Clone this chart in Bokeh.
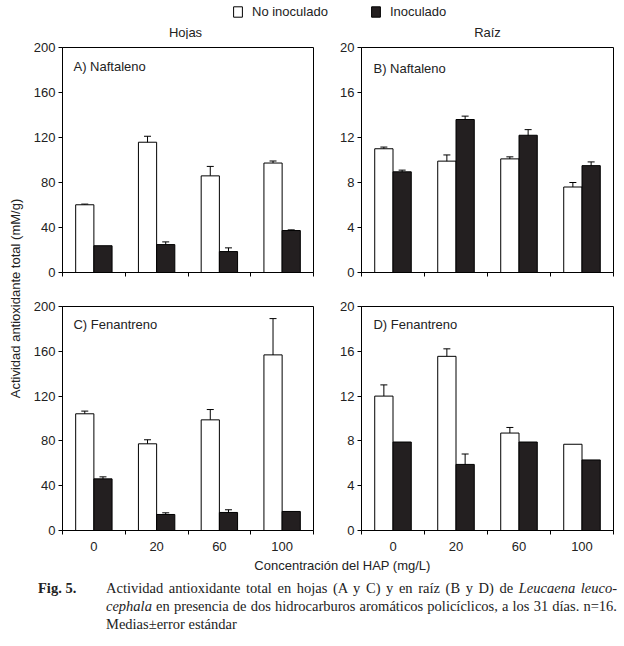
import numpy as np
from bokeh.plotting import figure
from bokeh.models import (ColumnDataSource, Whisker, TeeHead, FixedTicker, Label,
                          Legend, LegendItem, Range1d, Div)
from bokeh.layouts import column, row
from bokeh.embed import file_html
from bokeh.resources import INLINE
from bokeh.core.properties import value

# ---------------- data ----------------
categories = ["0", "20", "60", "100"]
series_names = ["No inoculado", "Inoculado"]

hojas_naf_no = [60.2, 115.8, 85.9, 97.3]
hojas_naf_no_err = [0.6, 5.3, 8.4, 1.8]
hojas_naf_in = [23.8, 24.8, 18.6, 37.3]
hojas_naf_in_err = [0.0, 2.4, 3.3, 0.6]

raiz_naf_no = [11.0, 9.9, 10.1, 7.6]
raiz_naf_no_err = [0.15, 0.55, 0.18, 0.4]
raiz_naf_in = [8.95, 13.6, 12.2, 9.5]
raiz_naf_in_err = [0.15, 0.3, 0.5, 0.33]

hojas_fen_no = [104.2, 77.4, 98.8, 156.8]
hojas_fen_no_err = [2.4, 3.6, 9.2, 32.4]
hojas_fen_in = [46.1, 14.3, 16.1, 17.0]
hojas_fen_in_err = [1.8, 1.5, 2.4, 0.0]

raiz_fen_no = [12.0, 15.55, 8.7, 7.7]
raiz_fen_no_err = [1.0, 0.67, 0.5, 0.0]
raiz_fen_in = [7.9, 5.9, 7.9, 6.3]
raiz_fen_in_err = [0.0, 0.93, 0.0, 0.0]

hojas_ticks = [0, 40, 80, 120, 160, 200]
raiz_ticks = [0, 4, 8, 12, 16, 20]

panel_labels = ["A) Naftaleno", "B) Naftaleno", "C) Fenantreno", "D) Fenantreno"]
col_titles = ["Hojas", "Raíz"]
y_label = "Actividad antioxidante total (mM/g)"
x_label = "Concentración del HAP (mg/L)"

FONT = "Liberation Sans"
TXT = "#222222"
DARK = "#231f20"
FS = "13px"


def panel(no, no_err, ino, ino_err, ymax, yticks, label, width, height,
          mbl, mbr, mbt, mbb, show_xlabels, lab_x, lab_y):
    p = figure(width=width, height=height, x_range=Range1d(-0.5, 3.5),
               y_range=Range1d(0, ymax), output_backend="svg",
               toolbar_location=None, min_border_left=mbl, min_border_right=mbr,
               min_border_top=mbt, min_border_bottom=mbb)
    p.xgrid.visible = False
    p.ygrid.visible = False
    p.outline_line_color = "black"
    p.outline_line_alpha = 1.0
    p.outline_line_width = 1
    p.background_fill_color = "white"
    p.border_fill_color = "white"

    idx = np.arange(len(categories))
    off = 0.145
    bw = 0.29
    s_no = ColumnDataSource(dict(x=idx - off, top=no))
    s_in = ColumnDataSource(dict(x=idx + off, top=ino))
    p.vbar(x="x", top="top", bottom=0, width=bw, source=s_no,
           fill_color="white", line_color="black", line_width=1)
    p.vbar(x="x", top="top", bottom=0, width=bw, source=s_in,
           fill_color=DARK, line_color="black", line_width=1)

    for xs, vals, errs in ((idx - off, no, no_err), (idx + off, ino, ino_err)):
        keep = [i for i, e in enumerate(errs) if e > 0]
        if not keep:
            continue
        src = ColumnDataSource(dict(
            x=[xs[i] for i in keep],
            upper=[vals[i] + errs[i] for i in keep],
            lower=[vals[i] - errs[i] for i in keep]))
        w = Whisker(source=src, base="x", upper="upper", lower="lower",
                    dimension="height", line_color="black", line_width=1,
                    upper_head=TeeHead(size=7, line_color="black", line_width=1),
                    lower_head=TeeHead(size=7, line_color="black", line_width=1))
        p.add_layout(w)

    # y axis
    p.yaxis.ticker = FixedTicker(ticks=yticks)
    p.yaxis.major_tick_out = 4
    p.yaxis.major_tick_in = 0
    p.yaxis.minor_tick_out = 0
    p.yaxis.minor_tick_in = 0
    p.yaxis.major_label_standoff = 3
    p.yaxis.axis_line_color = "black"
    p.yaxis.major_tick_line_color = "black"
    p.yaxis.major_label_text_font = FONT
    p.yaxis.major_label_text_font_size = FS
    p.yaxis.major_label_text_color = TXT

    # x axis: ticks at category boundaries, labels at category centers
    p.xaxis.ticker = FixedTicker(ticks=list(range(len(categories))),
                                 minor_ticks=[-0.5, 0.5, 1.5, 2.5, 3.5])
    p.xaxis.major_tick_out = 0
    p.xaxis.major_tick_in = 0
    p.xaxis.minor_tick_out = 4
    p.xaxis.minor_tick_in = 0
    p.xaxis.minor_tick_line_color = "black"
    p.xaxis.axis_line_color = "black"
    p.xaxis.major_label_standoff = 7
    p.xaxis.major_label_text_font = FONT
    p.xaxis.major_label_text_font_size = FS
    p.xaxis.major_label_text_color = TXT
    if show_xlabels:
        p.xaxis.major_label_overrides = {i: c for i, c in enumerate(categories)}
    else:
        p.xaxis.major_label_overrides = {i: "" for i in range(len(categories))}

    p.add_layout(Label(x=lab_x, y=lab_y, text=label, text_font=FONT,
                       text_font_size=FS, text_color=TXT,
                       text_baseline="middle", text_align="left"))
    return p


TOP_H = 39
# row 1 (page y 39..298)
pA = panel(hojas_naf_no, hojas_naf_no_err, hojas_naf_in, hojas_naf_in_err,
           200, hojas_ticks, panel_labels[0], 307, 298 - TOP_H, 32, 24, 8, 26, False,
           -0.325, 200 * 206 / 225)
pB = panel(raiz_naf_no, raiz_naf_no_err, raiz_naf_in, raiz_naf_in_err,
           20, raiz_ticks, panel_labels[1], 287, 298 - TOP_H, 24, 11, 8, 26, False,
           -0.31, 20 * 204 / 225)
# row 2 (page y 298..555)
pC = panel(hojas_fen_no, hojas_fen_no_err, hojas_fen_in, hojas_fen_in_err,
           200, hojas_ticks, panel_labels[2], 307, 257, 32, 24, 8, 25, True,
           -0.325, 200 * 206 / 224)
pD = panel(raiz_fen_no, raiz_fen_no_err, raiz_fen_in, raiz_fen_in_err,
           20, raiz_ticks, panel_labels[3], 287, 257, 24, 11, 8, 25, True,
           -0.31, 20 * 206 / 224)


def blank(w, h):
    f = figure(width=w, height=h, x_range=Range1d(0, w), y_range=Range1d(0, h),
               x_axis_type=None, y_axis_type=None, output_backend="svg",
               toolbar_location=None, min_border=0)
    f.xgrid.visible = False
    f.ygrid.visible = False
    f.outline_line_color = None
    f.background_fill_color = "white"
    f.border_fill_color = "white"
    return f


# top: legend + column titles (page y 0..TOP_H)
top = blank(624, TOP_H)
r_no = top.vbar(x=[-5000], top=[-5000], bottom=-5001, width=1, fill_color="white",
                line_color="black", line_width=1)
r_in = top.vbar(x=[-5000], top=[-5000], bottom=-5001, width=1, fill_color=DARK,
                line_color="black", line_width=1)
leg = Legend(items=[LegendItem(label=series_names[0], renderers=[r_no]),
                    LegendItem(label=series_names[1], renderers=[r_in])],
             orientation="horizontal", location=(232, TOP_H - 19), glyph_width=11,
             glyph_height=13, label_standoff=9, spacing=42, padding=0, margin=0,
             border_line_color=None, background_fill_alpha=0,
             label_text_font=FONT, label_text_font_size=FS,
             label_text_color=TXT, label_height=13)
top.add_layout(leg)
top.text(x=[185, 487], y=[TOP_H - 31.5] * 2, text=col_titles, text_align="center",
         text_baseline="middle", text_font=value(FONT), text_font_size=FS,
         text_color=TXT)

# y label (page x 0..30, y TOP_H..555)
ylab = blank(30, 555 - TOP_H)
ylab.text(x=[15], y=[555 - 298], text=[y_label], angle=np.pi / 2, text_align="center",
          text_baseline="middle", text_font=value(FONT), text_font_size=FS,
          text_color=TXT)

# x label (page y 555..575)
xlab = blank(624, 20)
xlab.text(x=[342], y=[10], text=[x_label], text_align="center",
          text_baseline="middle", text_font=value(FONT), text_font_size=FS,
          text_color=TXT)

just = "text-align:justify;text-align-last:justify;width:511px;"
caption_html = (
    "<div style=\"font-family:'Liberation Serif',serif;font-size:14.5px;line-height:18px;"
    "color:#222;padding-top:4px;padding-left:38px;display:flex;white-space:nowrap;\">"
    "<div style=\"width:68px;flex:none;font-weight:bold;\">Fig. 5.</div>"
    "<div>"
    f"<div style=\"{just}\">Actividad antioxidante total en hojas (A y C) y en raíz (B y D) de "
    "<i>Leucaena leuco-</i></div>"
    f"<div style=\"{just}\"><i>cephala</i> en presencia de dos hidrocarburos "
    "aromáticos policíclicos, a los 31 días. n=16.</div>"
    "<div>Medias±error estándar</div></div></div>"
)
caption = Div(text=caption_html, width=624, height=63, margin=0)

grid = column(row(pA, pB), row(pC, pD))
layout = column(top, row(ylab, grid), xlab, caption)

open("out.html", "w").write(file_html(layout, INLINE))
